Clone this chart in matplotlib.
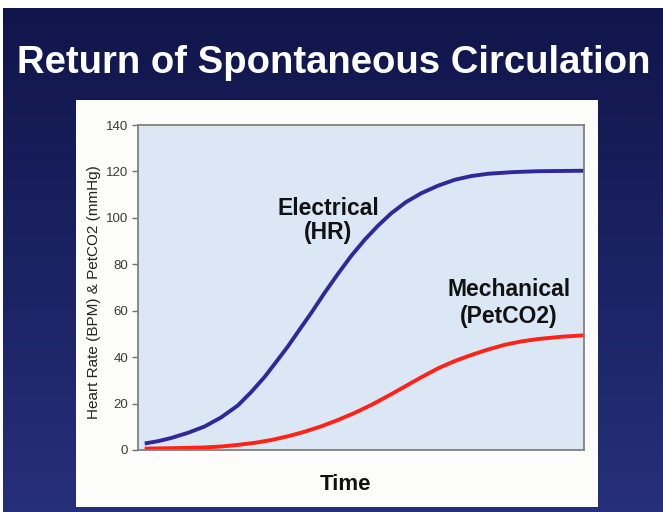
import numpy as np
import matplotlib.pyplot as plt
from matplotlib.patches import Rectangle

plt.rcParams['font.family'] = ['Liberation Sans', 'DejaVu Sans']

# curve points (time is arbitrary units 0..100)
hr_time = [1.5, 4.5, 7.5, 11.2, 14.9, 18.6, 22.4, 25.4, 28.4, 31.0, 33.6, 36.2, 38.9, 41.8,
           44.8, 47.8, 50.8, 53.8, 56.8, 60.1, 63.5, 67.2, 71.0, 74.7, 78.5, 84.0, 89.7, 95.0, 100.0]
hr_vals = [2.8, 3.8, 5.2, 7.4, 10.1, 14.0, 19.2, 25.0, 31.5, 38.0, 44.6, 51.8, 59.2, 67.6,
           75.8, 83.6, 90.5, 96.6, 102.0, 106.8, 110.6, 113.8, 116.4, 118.0, 119.0, 119.7, 120.1, 120.2, 120.3]

co2_time = [1.5, 8.0, 14.9, 18.6, 22.4, 26.2, 29.9, 33.6, 37.4, 41.1, 44.8, 48.6, 52.3, 56.0,
            59.8, 63.5, 67.3, 71.0, 74.7, 78.5, 82.2, 86.0, 89.7, 95.0, 100.0]
co2_vals = [0.6, 0.8, 1.1, 1.5, 2.2, 3.1, 4.3, 5.9, 7.9, 10.2, 12.9, 16.0, 19.4, 23.2,
            27.3, 31.3, 35.2, 38.3, 40.9, 43.3, 45.3, 46.8, 47.8, 48.8, 49.4]

yticks = [0, 20, 40, 60, 80, 100, 120, 140]

W, H = 663, 512
fig = plt.figure(figsize=(W / 100, H / 100), dpi=100)

# navy slide background with a soft vertical gradient
bg = fig.add_axes([0, 0, 1, 1], zorder=-10)
grad = np.linspace(0, 1, 256).reshape(-1, 1)
top = np.array([16, 21, 74]) / 255
bot = np.array([38, 47, 122]) / 255
img = top + (bot - top) * grad[:, :, None]
bg.imshow(img, aspect='auto', extent=[0, 1, 0, 1], origin='upper')
bg.set_xlim(0, 1)
bg.set_ylim(0, 1)
bg.axis('off')
# thin white strips along top and left edges
bg.add_patch(Rectangle((0, 1 - 8 / H), 1, 8 / H, color='white', lw=0))
bg.add_patch(Rectangle((0, 0), 3 / W, 1, color='white', lw=0))
# white chart panel
bg.add_patch(Rectangle((76 / W, 1 - 507 / H), (598 - 76) / W, (507 - 100) / H,
                       facecolor='#fcfcfa', edgecolor='none'))

fig.text(334 / W, 1 - 73 / H, "Return of Spontaneous Circulation", color='white',
         fontsize=27.5, fontweight='bold', ha='center', va='baseline')

ax = fig.add_axes([138 / W, 1 - 450 / H, 446 / W, 325 / H])
ax.set_facecolor('#dbe7f4')
ax.plot(hr_time, hr_vals, color='#30289a', lw=2.8, solid_capstyle='butt', solid_joinstyle='round')
ax.plot(co2_time, co2_vals, color='#ff2216', lw=2.8, solid_capstyle='butt', solid_joinstyle='round')

ax.set_xlim(0, 100)
ax.set_ylim(0, 140)
ax.set_yticks(yticks)
ax.set_xticks([])
ax.tick_params(axis='y', length=4, width=1, color='#707070', labelsize=9.5,
               labelcolor='#3a3a3a', pad=3)
for s in ax.spines.values():
    s.set_color('#808080')
    s.set_linewidth(1.3)

ax.set_ylabel("Heart Rate (BPM) & PetCO2 (mmHg)", fontsize=11, color='#222222')
ax.yaxis.set_label_coords(-0.083, 0.485)

ax.text(42.6, 104, "Electrical", fontsize=16.5, fontweight='bold', ha='center', va='center', color='#111111')
ax.text(42.6, 93.5, "(HR)", fontsize=16.5, fontweight='bold', ha='center', va='center', color='#111111')
ax.text(83.2, 69, "Mechanical", fontsize=16.5, fontweight='bold', ha='center', va='center', color='#111111')
ax.text(83.2, 57.3, "(PetCO2)", fontsize=16.5, fontweight='bold', ha='center', va='center', color='#111111')

fig.text(346 / W, 1 - 484 / H, "Time", fontsize=16, fontweight='bold', ha='center', va='center', color='#111111')

fig.savefig("out.png", dpi=100)
